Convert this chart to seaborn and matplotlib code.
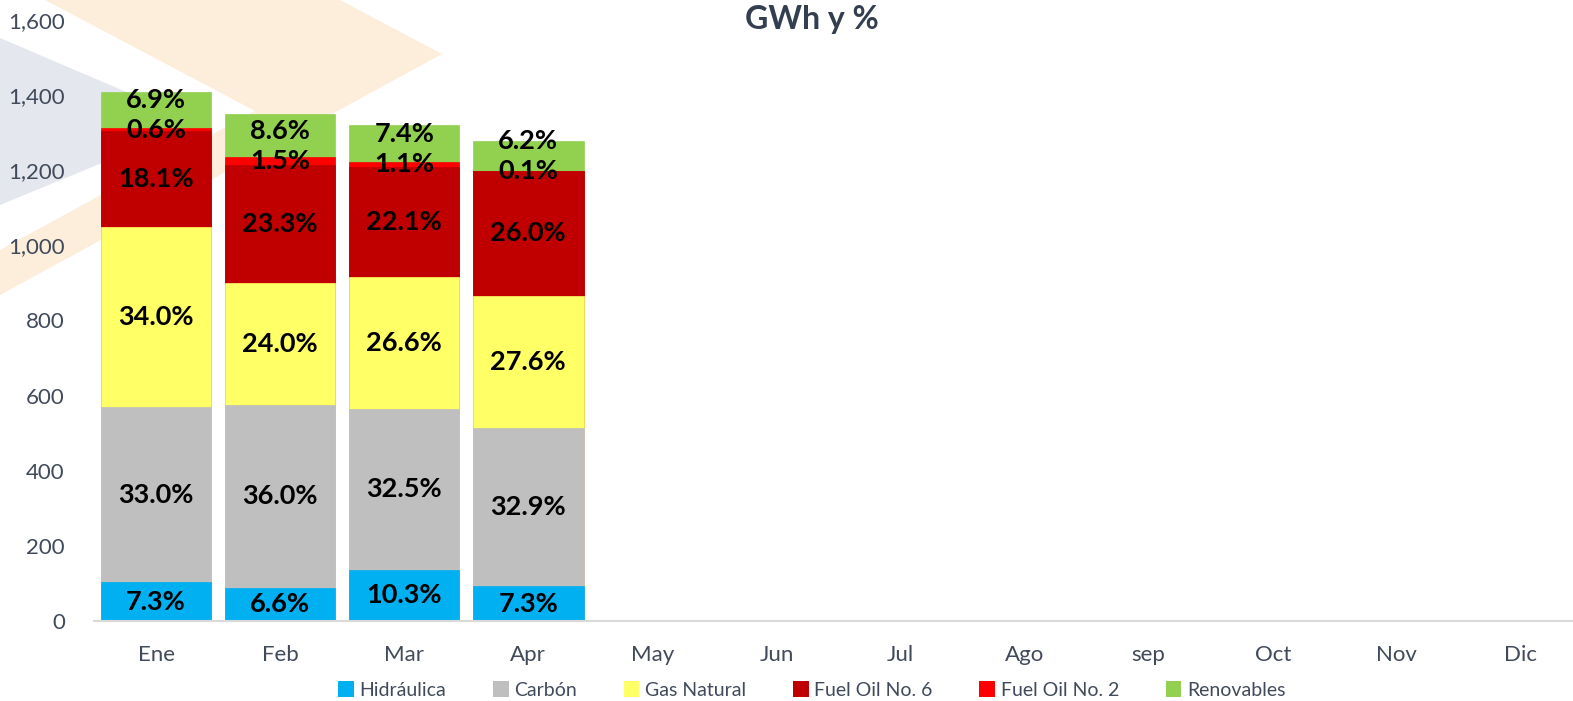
# -------------------------------
# Generacion por fuente (GWh y %)
# -------------------------------
import numpy as np
import pandas as pd
import matplotlib.pyplot as plt
from matplotlib.patches import Patch, Polygon
import seaborn as sns

# -------------------------------
# Data
# -------------------------------
months = ["Ene", "Feb", "Mar", "Apr", "May", "Jun", "Jul", "Ago", "sep", "Oct", "Nov", "Dic"]
series = ["Hidráulica", "Carbón", "Gas Natural", "Fuel Oil No. 6", "Fuel Oil No. 2", "Renovables"]
colors = ["#00b0f0", "#bfbfbf", "#ffff66", "#c00000", "#ff0000", "#92d050"]

hidraulica = [103, 89, 136, 93]
carbon = [466, 487, 429, 420]
gas_natural = [480, 324, 351, 353]
fuel_oil_6 = [255, 315, 292, 332]
fuel_oil_2 = [8, 20, 15, 1]
renovables = [97, 116, 98, 79]

pct_hidraulica = ["7.3%", "6.6%", "10.3%", "7.3%"]
pct_carbon = ["33.0%", "36.0%", "32.5%", "32.9%"]
pct_gas = ["34.0%", "24.0%", "26.6%", "27.6%"]
pct_fo6 = ["18.1%", "23.3%", "22.1%", "26.0%"]
pct_fo2 = ["0.6%", "1.5%", "1.1%", "0.1%"]
pct_ren = ["6.9%", "8.6%", "7.4%", "6.2%"]

values = [hidraulica, carbon, gas_natural, fuel_oil_6, fuel_oil_2, renovables]
labels = [pct_hidraulica, pct_carbon, pct_gas, pct_fo6, pct_fo2, pct_ren]

n = len(hidraulica)
df = pd.DataFrame(np.array(values).T, columns=series, index=months[:n])
df = df.reindex(months)
cum = df.cumsum(axis=1)

# -------------------------------
# Figure
# -------------------------------
sns.set_theme(style="white")
plt.rcParams["font.family"] = ["Lato", "DejaVu Sans"]

W, H = 1573, 701
fig = plt.figure(figsize=(W / 100, H / 100), dpi=100)

# faint watermark shapes in the background
def px(pts):
    return [(x / W, 1 - y / H) for x, y in pts]

fig.add_artist(Polygon(px([(0, 38), (199, 123), (0, 205)]),
                       closed=True, transform=fig.transFigure,
                       facecolor="#e4e7ed", edgecolor="none", zorder=0))
fig.add_artist(Polygon(px([(45, 0), (340, 0), (442, 54), (0, 295), (0, 250), (255, 111)]),
                       closed=True, transform=fig.transFigure,
                       facecolor="#fdeedb", edgecolor="none", zorder=0))

ax = fig.add_axes([94 / W, (H - 621) / H, (1573 - 94) / W, 601 / H])
ax.patch.set_alpha(0)

# stacked bars: draw cumulative totals from top layer down
for i in range(len(series) - 1, -1, -1):
    sns.barplot(x=months, y=cum[series[i]].values, order=months,
                color=colors[i], saturation=1, width=0.89,
                edgecolor=colors[i], linewidth=0.5, ax=ax)

# percent labels
for j in range(n):
    bottoms = [0] + list(cum.iloc[j, :-1])
    tops = list(cum.iloc[j])
    centers = [(b + t) / 2 for b, t in zip(bottoms, tops)]
    for i in range(len(series)):
        y = centers[i]
        if i == 5:
            y = max(y, centers[4] + 80)
        ax.text(j, y, labels[i][j], ha="center", va="center",
                fontsize=19.5, fontweight="bold", color="black", zorder=5)

ax.set_ylim(0, 1600)
ax.set_xlim(-0.5, 11 + (1573 - 1521) / 124)
ax.set_yticks(range(0, 1601, 200))
ax.yaxis.set_major_formatter(plt.FuncFormatter(lambda v, p: f"{int(v):,}"))
ax.tick_params(axis="both", length=0, labelsize=16, colors="#404a5a")
ax.tick_params(axis="x", pad=17)
ax.tick_params(axis="y", pad=21)
ax.set_xlabel("")
ax.set_ylabel("")
for s in ["top", "right", "left"]:
    ax.spines[s].set_visible(False)
ax.spines["bottom"].set_color("#d9d9d9")
ax.spines["bottom"].set_linewidth(1.5)

fig.text(812 / W, 1 - 20 / H, "GWh y %", ha="center", va="center",
         fontsize=23, fontweight="bold", color="#333f50")

handles = [Patch(facecolor=c, edgecolor="none") for c in colors]
fig.legend(handles, series, loc="center", bbox_to_anchor=(812 / W, 1 - 690 / H),
           ncol=6, frameon=False, fontsize=14, handlelength=0.8, handleheight=0.9,
           handletextpad=0.3, columnspacing=2.4, labelcolor="#404a5a")

fig.savefig("out.png", dpi=100)
